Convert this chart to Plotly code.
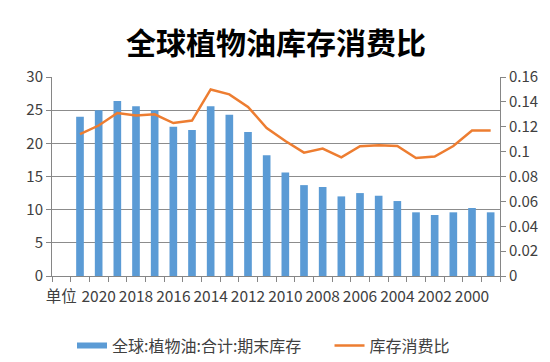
import plotly.graph_objects as go

categories = ["单位"] + [str(y) for y in range(2021, 1998, -1)]
stock = [None, 24.0, 25.0, 26.4, 25.6, 25.0, 22.5, 22.0, 25.6, 24.3, 21.7, 18.2, 15.6,
         13.7, 13.4, 12.0, 12.5, 12.1, 11.3, 9.6, 9.2, 9.6, 10.25, 9.6]
ratio = [None, 0.114, 0.121, 0.131, 0.129, 0.130, 0.123, 0.125, 0.150, 0.146, 0.136, 0.119, 0.1085,
         0.0992, 0.1024, 0.0954, 0.1043, 0.1051, 0.1045, 0.0949, 0.096, 0.1045, 0.117, 0.117]
tick_labels = [c if i % 2 == 0 else "" for i, c in enumerate(categories)]
left_ticks = [0, 5, 10, 15, 20, 25, 30]
right_ticks = [0, 0.02, 0.04, 0.06, 0.08, 0.1, 0.12, 0.14, 0.16]
right_text = ["0", "0.02", "0.04", "0.06", "0.08", "0.1", "0.12", "0.14", "0.16"]
bar_name = "全球:植物油:合计:期末库存"
line_name = "库存消费比"

font = "Noto Sans CJK SC"
axis_col = "#868686"
bar_col = "#5B9BD5"
line_col = "#ED7D31"

fig = go.Figure()
fig.add_trace(go.Bar(x=categories, y=stock, name=bar_name, showlegend=False,
                     marker=dict(color=bar_col, line=dict(width=0))))
fig.add_trace(go.Scatter(x=categories, y=ratio, name=line_name, yaxis="y2", mode="lines",
                         showlegend=False, line=dict(color=line_col, width=2.5)))
# legend-only entries (Excel-style wide swatches)
fig.add_trace(go.Scatter(x=[None], y=[None], name=bar_name + "\u3000\u00a0\u00a0", mode="lines",
                         line=dict(color=bar_col, width=6)))
fig.add_trace(go.Scatter(x=[None], y=[None], name=line_name, mode="lines", yaxis="y2",
                         line=dict(color=line_col, width=2.5)))

fig.update_layout(
    width=550, height=362,
    margin=dict(l=44, r=58, t=69, b=94, autoexpand=False),
    paper_bgcolor="white", plot_bgcolor="white",
    font=dict(family=font, color="#404040", size=14),
    title=dict(text="<b>全球植物油库存消费比</b>", x=0.5, xref="paper", xanchor="center",
               y=1 - 35 / 362, yref="container", yanchor="middle",
               font=dict(family=font, size=30, color="black")),
    bargap=0.59,
    showlegend=True,
    legend=dict(orientation="h", x=(64 - 44) / 448, xanchor="left", y=-0.35, yanchor="middle",
                font=dict(size=16, color="#404040"), itemwidth=30, tracegroupgap=0),
    xaxis=dict(type="category", tickson="boundaries", tickvals=categories, ticktext=tick_labels,
               ticks="outside", ticklen=5, tickcolor=axis_col, showline=True, linecolor=axis_col,
               showgrid=False, tickangle=0, ticklabelstandoff=6,
               tickfont=dict(size=15.5, color="#404040")),
    yaxis=dict(range=[0, 30], tickvals=left_ticks, ticks="outside", ticklen=5, tickcolor=axis_col,
               showline=True, linecolor=axis_col, showgrid=True, gridcolor="#8C8C8C", gridwidth=1,
               zeroline=False, tickfont=dict(size=15, color="#404040")),
    yaxis2=dict(range=[0, 0.16], tickvals=right_ticks, ticktext=right_text, overlaying="y", side="right",
                ticks="outside", ticklen=5, tickcolor=axis_col, showline=True, linecolor=axis_col,
                showgrid=False, zeroline=False, tickfont=dict(size=15, color="#404040")),
)

fig.write_html("out.html")
